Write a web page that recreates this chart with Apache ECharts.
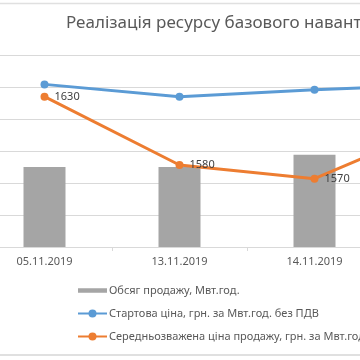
<!DOCTYPE html>
<html>
<head>
<meta charset="utf-8">
<script src="https://cdn.jsdelivr.net/npm/echarts@6/dist/echarts.min.js"></script>
<style>
html,body{margin:0;padding:0;background:#fff;overflow:hidden;width:360px;height:360px;}
#wrap{position:relative;width:360px;height:360px;overflow:hidden;}
#c{position:absolute;left:-23px;top:0;width:540px;height:360px;}
</style>
</head>
<body>
<div id="wrap"><div id="c"></div></div>
<script>
const categories = ['05.11.2019', '13.11.2019', '14.11.2019', '15.11.2019'];
const volume = [250, 250, 288, 260];
const startPrice = [1639, 1630, 1635, 1639];
const avgPrice = [1630, 1580, 1570, 1612];
const seriesNames = ['Обсяг продажу, Мвт.год.', 'Стартова ціна, грн. за Мвт.год. без ПДВ', 'Середньозважена ціна продажу, грн. за Мвт.год.'];
const titleText = 'Реалізація ресурсу базового навантаження';

const chart = echarts.init(document.getElementById('c'), null, {renderer: 'canvas'});
const font = 'Noto Sans';
const dx = 23;
chart.setOption({
  animation: false,
  backgroundColor: '#ffffff',
  title: {
    text: titleText,
    left: 66 + dx, top: 15, padding: 0,
    textStyle: {fontFamily: font, fontSize: 17, fontWeight: 'normal', color: '#595959'}
  },
  grid: {left: 0, right: 0, top: 55, bottom: 113, containLabel: false},
  legend: {
    orient: 'vertical', left: 77 + dx, top: 285, padding: 0, itemWidth: 29, itemHeight: 10, itemGap: 12,
    textStyle: {fontFamily: font, fontSize: 11, color: '#595959', padding: [0, 0, 0, -3]},
    data: [
      {name: seriesNames[0], icon: 'path://M0,0 M29,10 M0,2.75 L29,2.75 L29,7.25 L0,7.25 Z'},
      {name: seriesNames[1]},
      {name: seriesNames[2]}
    ]
  },
  xAxis: {
    type: 'category', data: categories,
    axisLine: {lineStyle: {color: '#d9d9d9', width: 1}},
    axisTick: {show: true, length: 4, lineStyle: {color: '#d9d9d9'}},
    axisLabel: {fontFamily: font, fontSize: 11, color: '#595959', margin: 9}
  },
  yAxis: [
    {type: 'value', min: 0, max: 600, interval: 100,
     axisLabel: {show: false}, axisLine: {show: false}, axisTick: {show: false},
     splitLine: {lineStyle: {color: '#d9d9d9', width: 1}}},
    {type: 'value', min: 1520, max: 1660.5, show: false, splitLine: {show: false}}
  ],
  series: [
    {name: seriesNames[0], type: 'bar', data: volume, barWidth: 42,
     itemStyle: {color: '#a5a5a5'}},
    {name: seriesNames[1], type: 'line', yAxisIndex: 1, data: startPrice,
     symbol: 'circle', symbolSize: 8, color: '#5b9bd5',
     lineStyle: {width: 3, color: '#5b9bd5'}, itemStyle: {color: '#5b9bd5'}},
    {name: seriesNames[2], type: 'line', yAxisIndex: 1, data: avgPrice,
     symbol: 'circle', symbolSize: 8, color: '#ed7d31',
     lineStyle: {width: 3, color: '#ed7d31'}, itemStyle: {color: '#ed7d31'},
     label: {show: true, position: 'right', distance: 6, fontFamily: font, fontSize: 11, color: '#404040'}}
  ],
  graphic: [
    {type: 'line', shape: {x1: 0, y1: 3.5, x2: 540, y2: 3.5}, style: {stroke: '#e0e0e0', lineWidth: 1.5}, silent: true},
    {type: 'line', shape: {x1: 0, y1: 355, x2: 540, y2: 355}, style: {stroke: '#e0e0e0', lineWidth: 2}, silent: true}
  ]
});
</script>
</body>
</html>
